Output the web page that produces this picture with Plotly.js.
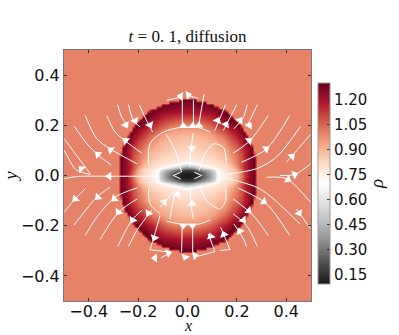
<!DOCTYPE html>
<html><head><meta charset="utf-8">
<script src="https://cdn.plot.ly/plotly-3.0.1.min.js"></script>
<style>html,body{margin:0;padding:0;background:#fff}</style></head>
<body><div id="chart" style="width:399px;height:335px"></div>
<script>
// density table for the upper right quadrant (rho x 100); the picture is mirror symmetric
const quadX = [0,.01,.02,.03,.04,.05,.06,.07,.08,.09,.10,.11,.12,.13,.14,.15,.16,.17,.18,.19,.20,.21,.22,.23,.24,.25,.26,.27,.28,.5];
const quadY = [0,.01,.02,.03,.04,.05,.06,.07,.08,.09,.10,.11,.12,.13,.14,.15,.16,.17,.18,.19,.20,.21,.22,.23,.24,.25,.26,.27,.28,.29,.30,.31,.5];
const background = 100;
const quadRho = [
 [10,10,10,11,13,18,24,28,33,38,44,54,65,70,74,76,78,80,82,85,88,94,102,110,117,122,126,129],
 [11,11,12,14,17,21,26,30,35,40,45,54,66,72,75,77,79,81,83,86,90,96,104,111,118,123,126,129],
 [18,18,20,24,28,32,36,39,43,47,52,60,70,74,76,78,80,82,84,87,92,98,106,113,118,123,126,129],
 [35,36,38,41,45,48,52,56,60,64,68,72,75,77,78,80,82,84,86,90,95,102,108,114,119,123,126,129],
 [55,56,58,62,65,69,72,74,75,76,77,78,78,80,81,82,84,87,90,94,99,104,109,115,119,123,126,129],
 [70,71,72,74,75,77,77,78,78,79,79,80,81,82,83,85,87,90,93,97,101,105,109,114,119,123,127,129],
 [76,76,77,78,78,79,79,80,80,81,81,82,83,84,85,87,89,92,95,98,101,105,109,114,119,123,127,129],
 [78,78,79,79,80,80,81,81,82,82,83,84,85,86,87,89,91,94,97,99,102,105,109,114,119,124,127,129],
 [80,80,80,81,81,82,82,83,83,84,85,85,86,87,88,90,92,95,98,100,103,106,110,115,120,124,128,118],
 [81,81,82,82,83,83,84,84,85,85,86,86,87,88,89,91,93,96,99,101,104,107,111,115,120,124,128,108],
 [83,83,83,83,84,84,85,85,86,86,87,88,89,90,91,93,95,97,100,102,105,108,112,116,120,125,129],
 [84,84,84,84,85,85,86,86,87,87,88,89,90,91,93,95,97,99,102,104,107,110,113,117,122,126,129],
 [85,85,85,85,86,86,87,87,88,88,89,90,92,93,95,96,99,101,104,106,109,112,115,119,123,128,108],
 [86,86,86,86,87,87,88,88,89,89,90,91,93,95,96,98,101,103,106,108,111,114,118,121,125,129],
 [87,87,87,87,88,88,89,89,90,91,92,93,95,97,98,100,103,105,108,110,113,116,120,123,127,130],
 [88,88,88,89,89,90,90,91,92,92,93,95,97,99,100,103,105,107,110,112,115,118,122,125,129],
 [90,90,90,90,91,91,92,92,93,94,95,97,99,101,103,105,108,110,113,115,118,121,124,128,110],
 [92,92,92,92,93,93,94,94,95,96,98,100,102,104,106,108,110,112,115,117,120,123,126,129],
 [94,94,94,95,95,95,96,97,98,99,101,103,105,107,109,111,113,115,118,120,122,125,128],
 [97,97,97,97,98,98,99,100,101,102,104,106,108,110,112,114,116,118,121,123,125,128,118],
 [100,100,100,100,101,101,102,103,104,106,108,110,112,114,116,118,120,122,124,126,128,130],
 [103,103,103,103,104,104,105,106,107,108,110,112,114,116,118,120,122,124,126,128,130],
 [107,107,107,107,108,108,109,110,111,112,113,115,117,119,121,123,125,127,129,130],
 [110,110,110,110,111,111,112,113,114,115,116,118,120,122,123,125,127,129,130],
 [114,114,114,114,115,115,116,116,117,118,119,121,122,124,126,127,129,130],
 [118,118,118,118,118,119,119,120,120,121,122,123,125,126,128,129,130],
 [120,120,120,121,121,122,122,123,123,124,125,126,127,128,129,115],
 [122,122,122,123,123,124,124,125,125,126,127,128,129],
 [125,125,125,125,126,126,127,127,128,129,130],
 [127,127,127,128,128,129,129,130],
 [129,129,130,130],
 [],[]
];
// streamlines in data coordinates: [x...], [y...]
const streamlines = [
 [[-.283,-.266,-.239],[.282,.232,.193]],
 [[-.239,-.219,-.192],[.282,.219,.193]],
 [[-.195,-.172,-.141],[.282,.232,.173]],
 [[-.327,-.293,-.246,-.185],[.239,.173,.133,.089]],
 [[-.414,-.367,-.313,-.203],[.239,.146,.106,.046]],
 [[-.459,-.407,-.360,-.309],[.197,.126,.080,.042]],
 [[-.499,-.434,-.394],[.146,.060,.007]],
 [[-.499,-.461,-.448,-.394],[.100,.033,.020,.004]],
 [[-.499,-.448,-.313,-.125],[-.013,-.004,-.003,-.003]],
 [[-.499,-.461,-.414],[-.146,-.100,-.053]],
 [[-.459,-.367,-.313],[-.197,-.086,-.046]],
 [[-.414,-.367,-.293,-.203],[-.239,-.166,-.086,-.049]],
 [[-.354,-.279,-.203],[-.255,-.146,-.093]],
 [[-.283,-.226,-.185],[-.283,-.179,-.139]],
 [[-.239,-.205,-.145],[-.283,-.219,-.139]],
 [[-.111,-.134,-.152],[-.159,-.239,-.296]],
 [[-.152,-.071],[-.296,-.305]],
 [[-.107,-.064],[-.328,-.305]],
 [[-.024,-.021],[-.305,-.193]],
 [[.021,.021],[-.305,-.193]],
 [[-.084,-.017,.05,.091],[-.182,-.195,-.193,-.177]],
 [[.03,.111],[-.325,-.303]],
 [[.111,.084],[-.303,-.232]],
 [[.131,.172],[-.299,-.295]],
 [[.172,.134],[-.295,-.206]],
 [[.188,.226,.239],[-.193,-.252,-.283]],
 [[.185,.239,.283],[-.153,-.199,-.283]],
 [[.185,.266,.327],[-.093,-.159,-.239]],
 [[.203,.32,.414],[-.049,-.113,-.239]],
 [[.145,.293,.455],[-.009,-.053,-.193]],
 [[.32,.401,.498],[-.007,-.013,-.106]],
 [[.441,.498],[-.133,-.212]],
 [[.219,.32,.414],[.053,.106,.239]],
 [[.185,.253,.327],[.089,.139,.239]],
 [[.188,.226,.242],[.186,.232,.282]],
 [[.145,.199],[.179,.282]],
 [[.111,.154],[.179,.282]],
 [[.239,.283],[.193,.282]],
 [[.145,.279,.36,.457],[.003,.027,.073,.195]],
 [[.401,.498],[.053,.163]],
 [[.374,.434,.498],[0,.004,.046]],
 [[-.084,-.03],[.299,.312]],
 [[-.003,.044],[.319,.308]],
 [[-.021,-.021],[.193,.312]],
 [[.024,.024],[.193,.301]],
 [[.044,.067],[.193,.325]],
 [[-.158,-.152,-.098,-.017,.05,.091],[.046,.126,.173,.193,.189,.173]],
 [[-.087,-.05,-.024],[.166,.1,.013]],
 [[.024,.013,.01],[.17,.1,.033]],
 [[.048,.064,.104,.145,.158],[.02,.073,.126,.113,.046]],
 [[.05,.077,.131,.154,.154],[-.046,-.1,-.133,-.1,-.053]],
 [[-.158,-.152,-.111],[-.053,-.113,-.153]],
 [[-.071,-.05,-.024],[-.173,-.073,-.04]],
 [[-.111,-.057],[-.126,-.066]],
 [[.024,.014,.013],[-.173,-.113,-.04]],
 [[-.057,-.028],[0,.013]],
 [[-.057,-.028],[0,-.013]],
 [[.057,.028],[0,.013]],
 [[.057,.028],[0,-.013]]
];
// arrow heads on the streamlines
const arrowX = [-.25,-.212,-.152,-.25,-.311,-.363,-.43,-.317,-.455,-.363,-.296,-.28,-.222,-.158,-.134,-.077,-.132,-.017,.02,-.01,.03,.094,.147,.212,.226,.248,.309,.452,.407,.434,.423,.318,.25,.25,.212,.156,.122,-.028,.003,-.017,.021,.046,.018,.018,-.041,-.094];
const arrowY = [.202,.219,.202,.139,.102,.084,.027,-.003,-.093,-.086,-.093,-.146,-.177,-.15,-.248,-.309,-.329,-.199,-.199,-.325,-.319,-.243,-.235,-.222,-.177,-.14,-.104,-.15,-.016,.004,.076,.106,.139,.199,.219,.203,.219,.316,.321,.197,.197,.199,.11,-.113,-.076,-.106];
const arrowAngle = [155,155,155,310,305,310,315,270,225,225,230,215,210,210,200,70,270,180,180,200,80,345,340,330,140,130,125,150,120,70,45,55,50,35,35,30,25,280,80,0,0,0,180,0,30,40];
// tick values and colours
const tickVals = [-.4,-.2,0,.2,.4];
const barTicks = [.15,.30,.45,.60,.75,.90,1.05,1.20];
const rdgy = ['#1a1a1a','#4d4d4d','#878787','#bababa','#e0e0e0','#ffffff','#fddbc7','#f4a582','#d6604d','#b2182b','#67001f'];

const fullX = quadX.slice(1).reverse().map(v=>-v).concat(quadX);
const fullY = quadY.slice(1).reverse().map(v=>-v).concat(quadY);
const quadRows = quadRho.map(r=>{const f=r.map(v=>v/100);while(f.length<quadX.length)f.push(background/100);return f;});
const mirrorRow = r=>r.slice(1).reverse().concat(r);
const rows = quadRows.map(mirrorRow);
const fullZ = rows.slice(1).reverse().concat(rows);

const traces = [{
  type:'heatmap',x:fullX,y:fullY,z:fullZ,zsmooth:'best',zmin:.096,zmax:1.30,
  colorscale:rdgy.map((c,i)=>[i/(rdgy.length-1),c]),
  colorbar:{thickness:12,thicknessmode:'pixels',len:.8,lenmode:'fraction',x:1.03,xanchor:'left',y:.468,yanchor:'middle',
    tickvals:barTicks,ticktext:barTicks.map(v=>v.toFixed(2)),ticks:'inside',ticklen:3,tickcolor:'#333',
    tickfont:{family:'DejaVu Sans',size:15,color:'#111'},outlinecolor:'#999',outlinewidth:1,borderwidth:0,xpad:0,ypad:0},
  hoverinfo:'skip'
}];
streamlines.forEach(s=>traces.push({type:'scatter',mode:'lines',x:s[0],y:s[1],
  line:{color:'#fff',width:1,shape:'spline',smoothing:.8},hoverinfo:'skip',showlegend:false}));
traces.push({type:'scatter',mode:'markers',x:arrowX,y:arrowY,
  marker:{symbol:'triangle-up',size:8,color:'#fff',angle:arrowAngle,line:{width:0}},hoverinfo:'skip',showlegend:false});

const axisBase = {range:[-.5,.5],tickvals:tickVals,ticks:'inside',ticklen:3,tickcolor:'#333',
  showgrid:false,zeroline:false,showline:true,linecolor:'#777',linewidth:1,mirror:'ticks',
  tickfont:{family:'DejaVu Sans',size:16,color:'#111'},tickformat:'.1f'};
const labelFont = {family:'Liberation Serif',size:19,color:'#111'};
Plotly.newPlot('chart',traces,{
  width:399,height:335,showlegend:false,paper_bgcolor:'#fff',plot_bgcolor:'#e5826a',
  margin:{l:64,r:87.5,t:50,b:34},
  title:{text:'<i>t</i> = 0. 1, diffusion',x:.47,xanchor:'center',y:.893,yanchor:'middle',font:{family:'Liberation Serif',size:17,color:'#111'}},
  xaxis:Object.assign({},axisBase,{ticklabelstandoff:-4}),
  yaxis:Object.assign({},axisBase,{title:{text:'<i>y</i>',standoff:8,font:labelFont}}),
  annotations:[
   {text:'<i>x</i>',xref:'paper',yref:'paper',x:.5,xanchor:'center',y:-.096,yanchor:'middle',showarrow:false,font:{family:'Liberation Serif',size:16,color:'#111'}},
   {text:'<i>ρ</i>',xref:'paper',yref:'paper',x:1.265,xanchor:'center',y:.468,yanchor:'middle',showarrow:false,textangle:-90,font:labelFont}]
},{displayModeBar:false,staticPlot:true});
</script></body></html>
